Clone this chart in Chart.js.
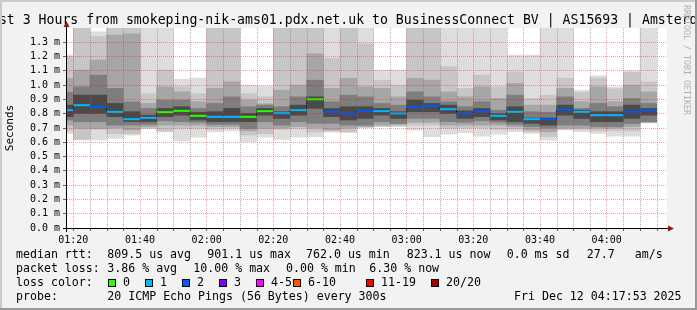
<!DOCTYPE html>
<html>
<head>
<meta charset="utf-8">
<title>SmokePing - last 3 hours</title>
<script src="https://cdn.jsdelivr.net/npm/chart.js@4.4.1/dist/chart.umd.min.js"></script>
<style>
  html, body { margin: 0; padding: 0; background: #f2f2f2; }
  #wrap { width: 697px; height: 310px; }
</style>
</head>
<body>
<div id="wrap"><canvas id="smokeChart" width="697" height="310"></canvas></div>
<script>
// start of each 5 minute slot
const slotTimes = ['01:15','01:20','01:25','01:30','01:35','01:40','01:45','01:50','01:55','02:00',
                   '02:05','02:10','02:15','02:20','02:25','02:30','02:35','02:40','02:45','02:50',
                   '02:55','03:00','03:05','03:10','03:15','03:20','03:25','03:30','03:35','03:40',
                   '03:45','03:50','03:55','04:00','04:05','04:10'];

// smoke, in ms: outer band (min/max) down to the inner band round the median
const smokeMin = [0.662,0.616,0.616,0.627,0.65,0.695,0.673,0.61,0.636,0.673,0.68,0.604,0.635,0.62,0.636,0.64,0.67,0.667,
                  0.704,0.709,0.71,0.685,0.639,0.657,0.667,0.643,0.657,0.674,0.662,0.615,0.686,0.674,0.662,0.643,0.643,0.736];
const smokeLo2 = [0.68,0.62,0.69,0.66,0.66,0.70,0.68,0.697,0.697,0.69,0.697,0.651,0.66,0.69,0.697,0.67,0.68,0.674,
                  0.706,0.712,0.715,0.72,0.72,0.697,0.70,0.70,0.69,0.69,0.675,0.64,0.69,0.69,0.68,0.68,0.68,0.738];
const smokeLo3 = [0.72,0.697,0.697,0.70,0.686,0.709,0.72,0.72,0.72,0.709,0.709,0.68,0.697,0.70,0.71,0.70,0.686,0.70,
                  0.709,0.72,0.725,0.74,0.74,0.72,0.72,0.72,0.72,0.709,0.686,0.674,0.70,0.70,0.70,0.70,0.709,0.74];
const smokeLo4 = [0.756,0.744,0.744,0.72,0.72,0.725,0.75,0.744,0.74,0.725,0.725,0.697,0.744,0.72,0.744,0.733,0.732,0.72,
                  0.72,0.744,0.732,0.767,0.767,0.744,0.74,0.75,0.74,0.725,0.71,0.70,0.72,0.72,0.709,0.709,0.73,0.744];
const smokeLo5 = [0.78,0.802,0.802,0.779,0.745,0.744,0.779,0.79,0.756,0.744,0.744,0.744,0.79,0.767,0.79,0.837,0.779,0.756,
                  0.767,0.79,0.767,0.814,0.814,0.802,0.767,0.779,0.756,0.744,0.732,0.72,0.79,0.767,0.744,0.744,0.767,0.79];
const medianRtt = [0.825,0.860,0.848,0.813,0.762,0.771,0.811,0.820,0.785,0.778,0.778,0.778,0.818,0.804,0.825,0.901,0.813,0.802,
                   0.818,0.818,0.802,0.846,0.855,0.832,0.800,0.816,0.785,0.813,0.762,0.762,0.828,0.813,0.790,0.790,0.813,0.823];
const smokeHi5 = [0.86,0.93,0.93,0.872,0.814,0.79,0.837,0.849,0.81,0.814,0.837,0.802,0.837,0.814,0.86,0.918,0.837,0.849,
                  0.849,0.837,0.814,0.895,0.872,0.86,0.82,0.837,0.80,0.849,0.77,0.77,0.86,0.825,0.814,0.814,0.86,0.837];
const smokeHi4 = [0.95,0.988,1.07,0.977,0.883,0.837,0.895,0.895,0.837,0.872,0.918,0.849,0.86,0.849,0.918,1.035,0.884,0.93,
                  0.918,0.872,0.86,0.953,0.918,0.884,0.849,0.884,0.825,0.93,0.814,0.81,0.918,0.837,0.872,0.849,0.907,0.872];
const smokeHi3 = [1.047,1.105,1.175,1.35,1.36,0.872,0.988,0.953,0.884,0.977,1.023,0.895,0.87,0.965,1.0,1.22,0.977,1.047,
                  0.988,0.977,0.918,1.047,1.035,0.953,0.918,0.988,0.907,1.012,0.86,0.86,0.977,0.884,0.988,0.884,1.0,0.953];
const smokeHi2 = [1.20,1.42,1.34,1.40,1.40,0.94,1.105,0.988,0.94,1.42,1.42,0.94,0.918,1.42,1.42,1.42,1.187,1.42,
                  1.29,1.035,1.0,1.42,1.42,1.128,0.977,1.07,0.988,1.093,0.907,0.93,1.047,0.95,1.05,0.975,1.09,1.023];
const smokeMax = [1.21,1.45,1.373,1.41,1.45,1.45,1.45,1.04,1.05,1.45,1.45,1.0,0.993,1.45,1.45,1.45,1.45,1.45,
                  1.45,1.105,1.105,1.45,1.45,1.45,1.45,1.45,1.45,1.21,1.21,1.45,1.45,0.965,1.065,0.988,1.10,1.45];
// lost pings out of 20, per slot
const lostPings = [1,1,2,1,1,1,0,0,0,1,1,0,0,1,1,0,2,2,2,1,1,2,2,1,2,2,1,1,1,2,2,1,1,1,2,2];

const timeLabels = ['01:20','01:40','02:00','02:20','02:40','03:00','03:20','03:40','04:00'];
const yTickLabels = ['0.0 m','0.1 m','0.2 m','0.3 m','0.4 m','0.5 m','0.6 m','0.7 m','0.8 m','0.9 m','1.0 m','1.1 m','1.2 m','1.3 m'];

const lossLabels = ['0','1','2','3','4-5','6-10','11-19','20/20'];
const lossColors = ['#26ff00','#00b8ff','#0059ff','#7e00ff','#ff00ff','#ff5500','#ff0000','#a10000'];

const titleText = 'Last 3 Hours from smokeping-nik-ams01.pdx.net.uk to BusinessConnect BV | AS15693 | Amsterdam';
const rttStats = ['809.5 us avg','901.1 us max','762.0 us min','823.1 us now','0.0 ms sd','27.7','am/s'];
const lossStats = ['3.86 % avg','10.00 % max','0.00 % min','6.30 % now'];
const probeText = '20 ICMP Echo Pings (56 Bytes) every 300s';
const stampText = 'Fri Dec 12 04:17:53 2025';

const MONO = '"DejaVu Sans Mono", monospace';
Chart.defaults.font.family = MONO;

function lossColor(n) {
    if (n <= 3) return lossColors[n];
    if (n <= 5) return lossColors[4];
    if (n <= 10) return lossColors[5];
    if (n < 20) return lossColors[6];
    return lossColors[7];
}

const toMin = t => { const p = t.split(':'); return +p[0] * 60 + +p[1]; };
const xs = slotTimes.map(t => toMin(t) + 2.5);
const band = (lo, hi) => xs.map((x, i) => ({ x: x, y: [lo[i], hi[i]] }));

const smokeBar = (lo, hi, color, order) => ({
    type: 'bar',
    data: band(lo, hi),
    backgroundColor: color,
    borderWidth: 0,
    barPercentage: 1,
    categoryPercentage: 1,
    grouped: false,
    clip: 0,
    order: order
});

const majorGrid = 'rgba(255, 0, 0, 0.38)';
const minorGrid = 'rgba(110, 110, 110, 0.5)';

// RRD-ish decorations: background, minor grid, axes with arrows, title, legend text
const rrdFrame = {
    id: 'rrdFrame',
    beforeDraw(chart) {
        const ctx = chart.ctx, a = chart.chartArea;
        ctx.save();
        ctx.fillStyle = '#f2f2f2';
        ctx.fillRect(0, 0, chart.width, chart.height);
        ctx.fillStyle = '#ffffff';
        ctx.fillRect(a.left, a.top, a.right - a.left, a.bottom - a.top);
        ctx.restore();
    },
    afterDatasetsDraw(chart) {
        const ctx = chart.ctx, a = chart.chartArea, sx = chart.scales.x;
        ctx.save();
        ctx.lineWidth = 1;
        sx.ticks.forEach(t => {
            if (t.value % 20 === 0) return;
            const px = Math.round(sx.getPixelForValue(t.value)) + 0.5;
            ctx.strokeStyle = minorGrid;
            ctx.setLineDash([1, 1]);
            ctx.beginPath();
            ctx.moveTo(px, a.top); ctx.lineTo(px, a.bottom);
            ctx.stroke();
            ctx.setLineDash([]);
            ctx.strokeStyle = '#666';
            ctx.beginPath();
            ctx.moveTo(px, a.bottom); ctx.lineTo(px, a.bottom + 3);
            ctx.stroke();
        });
        ctx.restore();
    },
    afterDraw(chart) {
        const ctx = chart.ctx, a = chart.chartArea;
        ctx.save();

        // axes
        ctx.strokeStyle = '#000';
        ctx.lineWidth = 1;
        ctx.beginPath();
        ctx.moveTo(63, a.bottom + 0.5); ctx.lineTo(669, a.bottom + 0.5);
        ctx.moveTo(a.left - 0.5, a.bottom + 4); ctx.lineTo(a.left - 0.5, 25);
        ctx.stroke();
        ctx.fillStyle = '#9a1414';
        ctx.beginPath();
        ctx.moveTo(668, a.bottom - 2.5); ctx.lineTo(674, a.bottom + 0.5); ctx.lineTo(668, a.bottom + 3.5);
        ctx.closePath(); ctx.fill();
        ctx.beginPath();
        ctx.moveTo(a.left - 3.5, 27); ctx.lineTo(a.left - 0.5, 21); ctx.lineTo(a.left + 2.5, 27);
        ctx.closePath(); ctx.fill();

        // title
        ctx.fillStyle = '#000';
        ctx.font = '13.2px ' + MONO;
        ctx.textBaseline = 'alphabetic';
        ctx.textAlign = 'left';
        ctx.fillText(titleText, -17, 24);

        // legend
        ctx.font = '11.6px ' + MONO;
        ctx.fillText('median rtt:', 16, 257.5);
        [107.3, 207.3, 306, 406.7, 506.7, 586.7, 634.7].forEach((x, i) => ctx.fillText(rttStats[i], x, 257.5));
        ctx.fillText('packet loss:', 16, 271.6);
        [107.3, 193.3, 286, 369.3].forEach((x, i) => ctx.fillText(lossStats[i], x, 271.6));
        ctx.fillText('loss color:', 16, 285.8);
        [108, 145, 182, 219, 256, 293, 366, 431].forEach((x, i) => {
            ctx.fillStyle = lossColors[i];
            ctx.fillRect(x, 279, 8, 8);
            ctx.strokeStyle = '#000';
            ctx.strokeRect(x + 0.5, 279.5, 7, 7);
            ctx.fillStyle = '#000';
            ctx.fillText(lossLabels[i], x + 15, 285.8);
        });
        ctx.fillText('probe:', 16, 300);
        ctx.fillText(probeText, 107.3, 300);
        ctx.fillText(stampText, 514, 300);

        // watermark
        ctx.save();
        ctx.translate(686.5, 5);
        ctx.rotate(Math.PI / 2);
        ctx.font = '8.3px ' + MONO;
        ctx.fillStyle = '#b0b0b0';
        ctx.textBaseline = 'middle';
        ctx.fillText('RRDTOOL / TOBI OETIKER', 0, 0);
        ctx.restore();

        // 3d border
        ctx.fillStyle = '#cbcbcb';
        ctx.fillRect(0, 0, chart.width, 2);
        ctx.fillRect(0, 0, 2, chart.height);
        ctx.fillStyle = '#999999';
        ctx.fillRect(0, chart.height - 2, chart.width, 2);
        ctx.fillRect(chart.width - 2, 0, 2, chart.height);
        ctx.restore();
    }
};

const ctx = document.getElementById('smokeChart').getContext('2d');
const smokeChart = new Chart(ctx, {
    type: 'bar',
    data: {
        datasets: [
            smokeBar(smokeMin, smokeMax, '#dddddd', 7),
            smokeBar(smokeLo2, smokeHi2, '#c6c6c6', 6),
            smokeBar(smokeLo3, smokeHi3, '#a6a6a6', 5),
            smokeBar(smokeLo4, smokeHi4, '#7e7e7e', 4),
            smokeBar(smokeLo5, smokeHi5, '#4a4a4a', 3),
            {
                type: 'line',
                data: xs.map((x, i) => ({ x: x, y: medianRtt[i] })),
                stepped: 'middle',
                borderColor: '#000',
                borderWidth: 1,
                borderDash: [1, 1],
                pointRadius: 0,
                clip: 0,
                order: 2
            },
            {
                type: 'line',
                data: xs.map((x, i) => ({ x: x, y: medianRtt[i] })),
                showLine: false,
                pointStyle: 'line',
                pointRadius: c => {
                    const s = c.chart.scales.x;
                    return (s.getPixelForValue(5) - s.getPixelForValue(0)) / 2;
                },
                pointBorderWidth: 2,
                pointBorderColor: lostPings.map(lossColor),
                clip: 0,
                order: 1
            }
        ]
    },
    options: {
        responsive: false,
        animation: false,
        devicePixelRatio: 1,
        events: [],
        layout: { padding: { top: 28, right: 30, left: 0, bottom: 0 } },
        plugins: {
            legend: { display: false },
            tooltip: { enabled: false },
            title: { display: false }
        },
        scales: {
            x: {
                type: 'linear',
                min: 78.1,
                max: 258.1,
                offset: false,
                afterFit: s => { s.height = 82; },
                afterBuildTicks: s => {
                    const t = [];
                    for (let m = 80; m <= 255; m += 5) t.push({ value: m });
                    s.ticks = t;
                },
                grid: {
                    z: 1,
                    offset: false,
                    color: c => (c.tick && c.tick.value % 20 === 0) ? majorGrid : 'rgba(0,0,0,0)',
                    tickLength: 3,
                    tickColor: c => (c.tick && c.tick.value % 20 === 0) ? '#666' : 'rgba(0,0,0,0)'
                },
                border: { display: false, dash: [1, 1] },
                ticks: {
                    autoSkip: false,
                    maxRotation: 0,
                    padding: 3,
                    color: '#000',
                    font: { size: 10 },
                    callback: v => v % 20 === 0 ? timeLabels[(v - 80) / 20] : ''
                }
            },
            y: {
                min: 0,
                max: 1.4,
                afterFit: s => { s.width = 67; },
                afterBuildTicks: s => {
                    s.ticks = yTickLabels.map((lbl, i) => ({ value: i / 10 }));
                },
                grid: {
                    z: 1,
                    color: c => (c.tick && c.tick.value > 0.05) ? majorGrid : 'rgba(0,0,0,0)',
                    tickLength: 4,
                    tickColor: '#666'
                },
                border: { display: false, dash: [1, 1] },
                ticks: {
                    autoSkip: false,
                    padding: 3,
                    color: '#000',
                    font: { size: 10 },
                    callback: (v, i) => yTickLabels[i]
                },
                title: {
                    display: true,
                    text: 'Seconds',
                    color: '#000',
                    font: { size: 11 },
                    padding: { top: 4, bottom: 0 }
                }
            }
        }
    },
    plugins: [rrdFrame]
});
</script>
</body>
</html>
